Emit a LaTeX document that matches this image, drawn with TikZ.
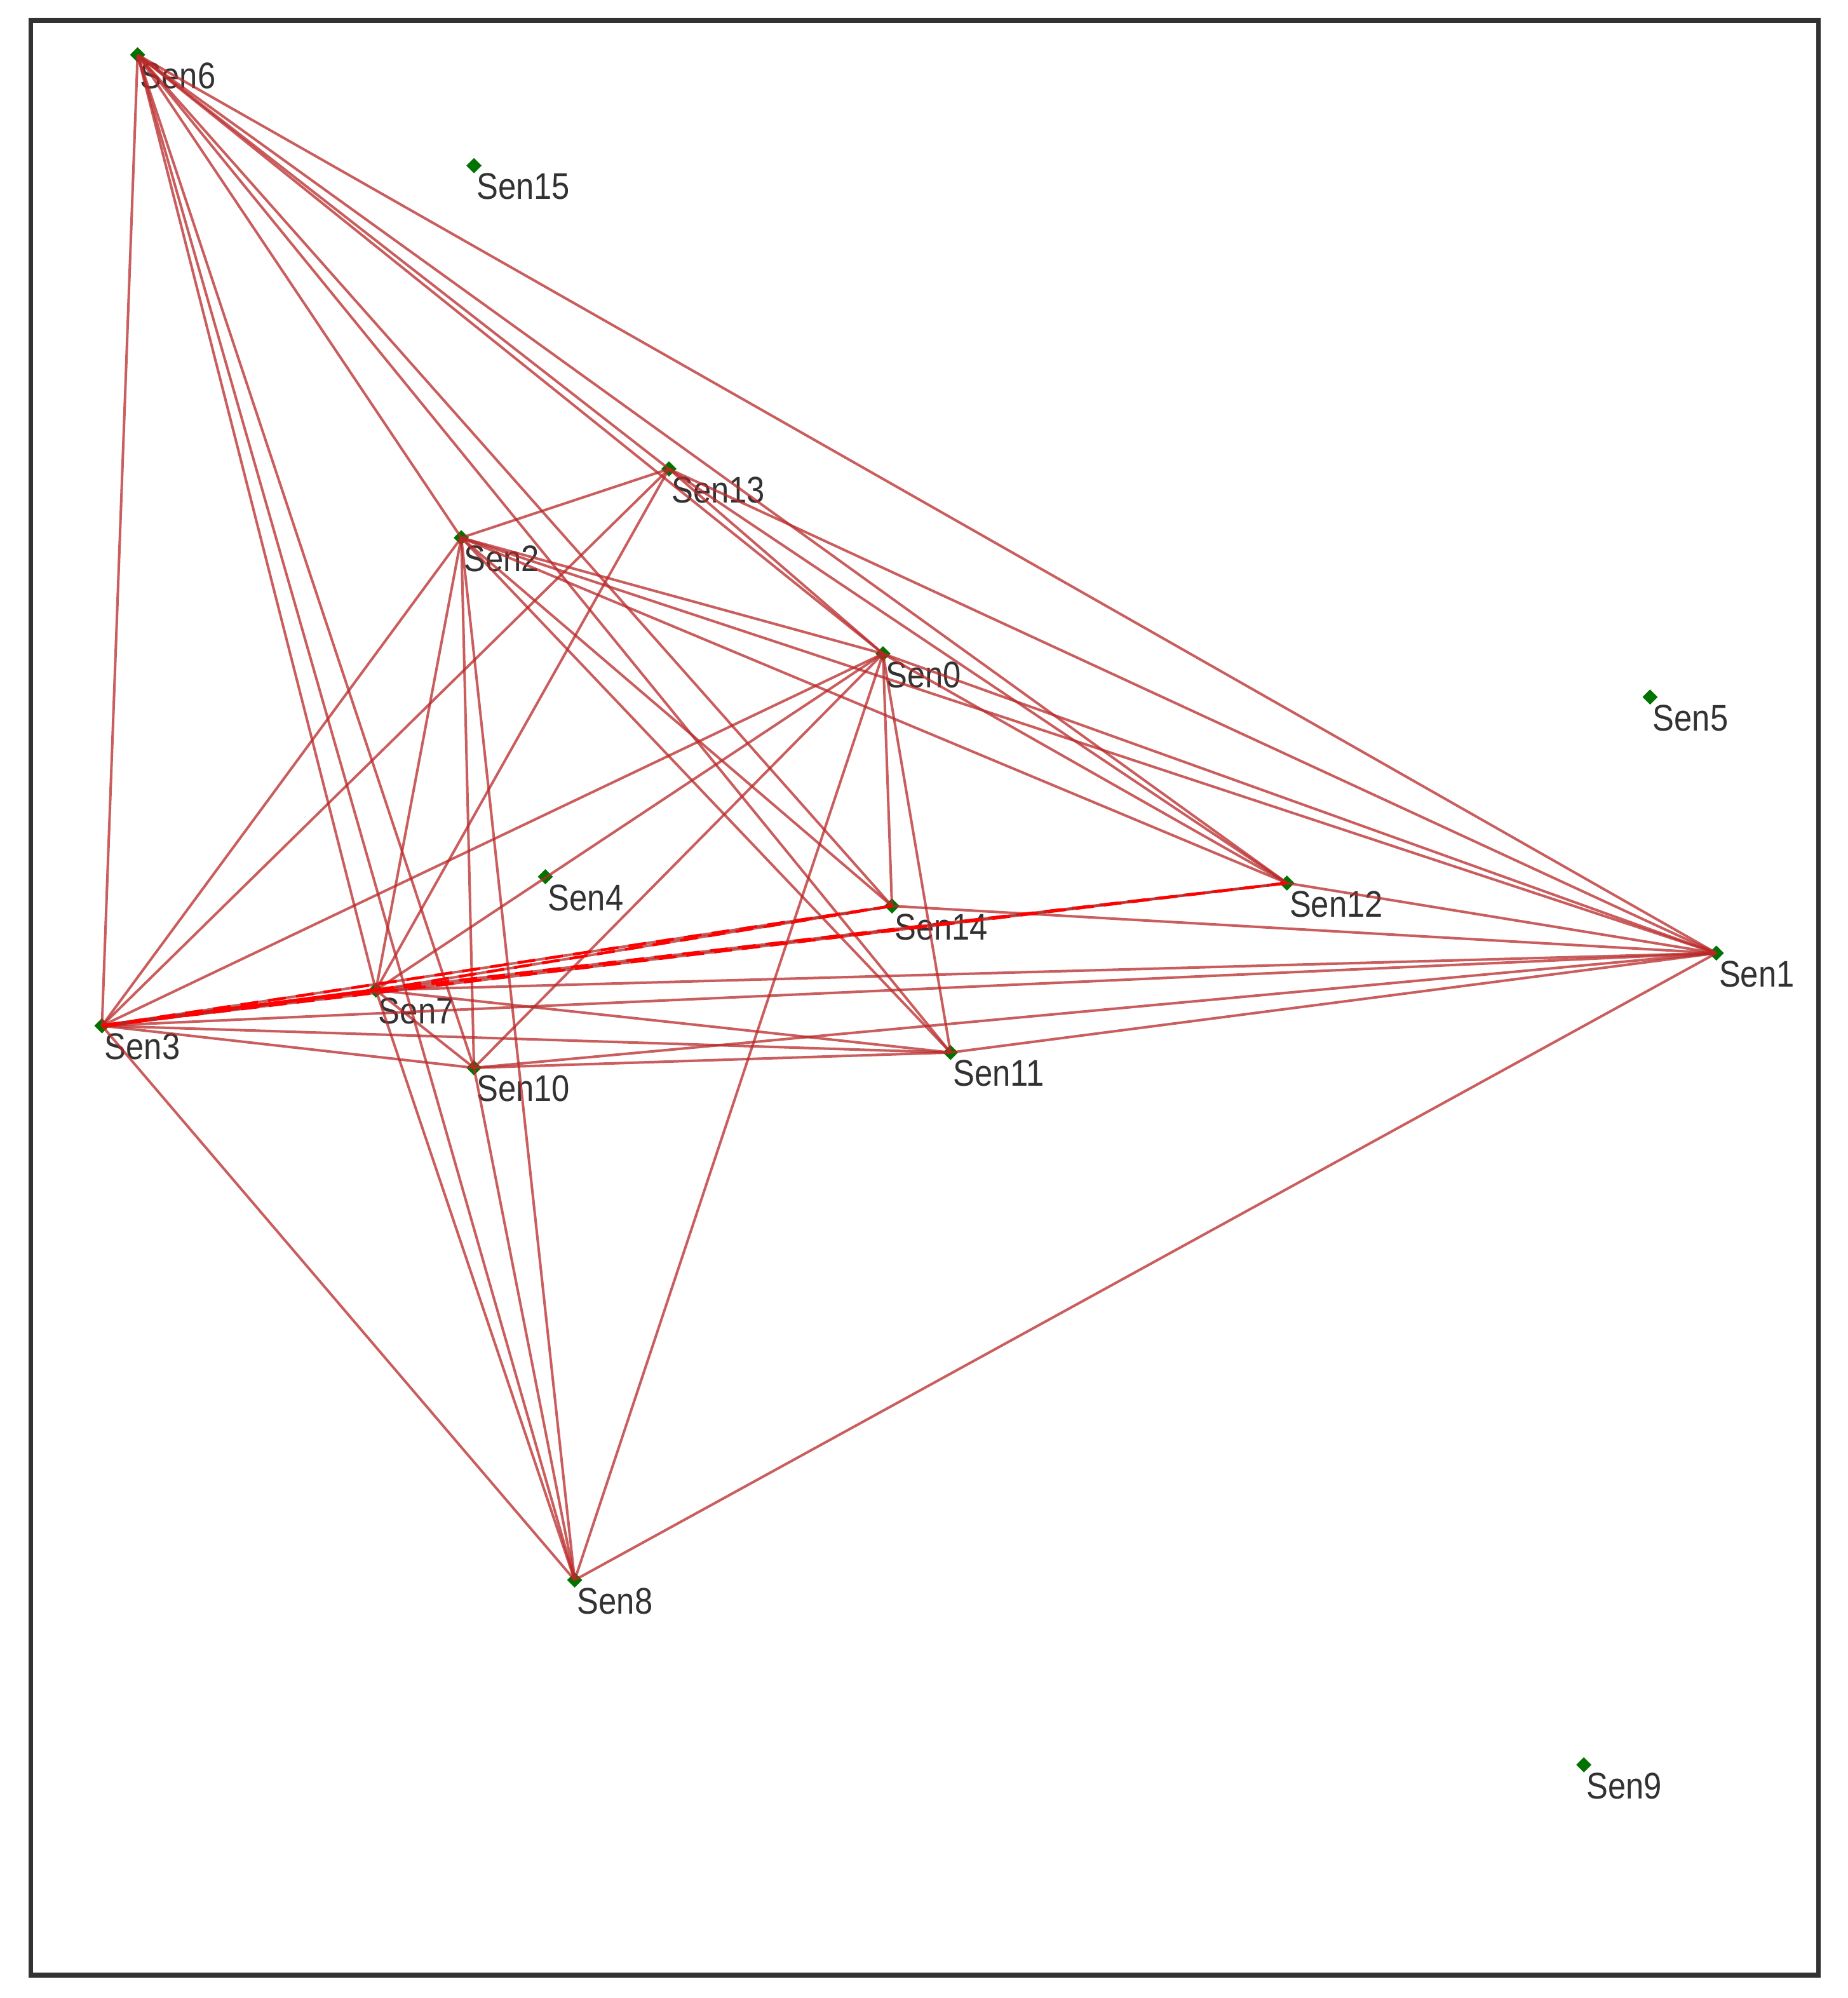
\documentclass[tikz,border=0pt]{standalone}
\usepackage{fontspec}
\setmainfont{Liberation Sans}
\usetikzlibrary{shapes.geometric}
\definecolor{edgecol}{RGB}{185,40,40}
\definecolor{nodecol}{RGB}{0,115,0}
\definecolor{framecol}{RGB}{50,50,50}
\definecolor{txtcol}{RGB}{50,50,50}
\begin{document}
\begin{tikzpicture}[x=0.05cm,y=-0.05cm,
 sensor/.style={diamond, fill=nodecol, inner sep=0pt, minimum width=0.6cm, minimum height=0.6cm},
 lbl/.style={anchor=north west, inner sep=0pt, text=txtcol, font=\fontsize{36}{40}\selectfont},
 edge/.style={draw=edgecol, opacity=0.75, line width=0.1cm},
 hot/.style={draw=red, line width=0.15cm},
 hotdash/.style={draw=red, line width=0.11cm, dash pattern=on 0.7cm off 0.4cm, preaction={draw=edgecol, opacity=0.75, line width=0.1cm}}]
\useasboundingbox (0,0) rectangle (1450,1568);
\fill[white] (0,0) rectangle (1450,1568);
\draw[framecol, line width=0.18cm] (24,16) rectangle (1427,1550);
% sensors
\node[sensor] (s0) at (693,513) {};
\node[sensor] (s1) at (1347,748) {};
\node[sensor] (s2) at (362,422) {};
\node[sensor] (s3) at (80,805) {};
\node[sensor] (s4) at (428,688) {};
\node[sensor] (s5) at (1295,547) {};
\node[sensor] (s6) at (108,43) {};
\node[sensor] (s7) at (295,777) {};
\node[sensor] (s8) at (451,1240) {};
\node[sensor] (s9) at (1243,1385) {};
\node[sensor] (s10) at (372,838) {};
\node[sensor] (s11) at (746,826) {};
\node[sensor] (s12) at (1010,693) {};
\node[sensor] (s13) at (525,368) {};
\node[sensor] (s14) at (700,711) {};
\node[sensor] (s15) at (372,130) {};
% labels
\foreach \i/\x/\y in {0/693/513,1/1347/748,2/362/422,3/80/805,4/428/688,5/1295/547,6/108/43,7/295/777,8/451/1240,9/1243/1385,10/372/838,11/746/826,12/1010/693,13/525/368,14/700/711,15/372/130}
  \node[lbl] (t\i) at (\x+2,\y+6) {\scalebox{1}[1.15]{Sen\i}};
% links
\foreach \a/\b in {6/3,6/1,6/12,6/13,6/0,6/2,6/14,6/11,6/7,6/10,6/8,
  13/2,13/0,13/12,13/1,13/7,13/3,
  2/0,2/1,2/12,2/3,2/7,2/10,2/8,2/14,2/11,
  0/3,0/7,0/10,0/8,0/14,0/11,0/12,0/1,
  1/12,1/14,1/7,1/3,1/11,1/10,1/8,
  3/10,3/11,3/8,
  7/10,7/11,7/8,
  10/11,10/8}
  \draw[edge] (s\a.center) -- (s\b.center);
\draw[hot] (s3.center) -- (s7.center);
\draw[hotdash] (s7.center) -- (s14.center);
\draw[hotdash] (s7.center) -- (s12.center);
\draw[hotdash] (s3.center) -- (s14.center);
\draw[hotdash] (s3.center) -- (s12.center);
\end{tikzpicture}
\end{document}
